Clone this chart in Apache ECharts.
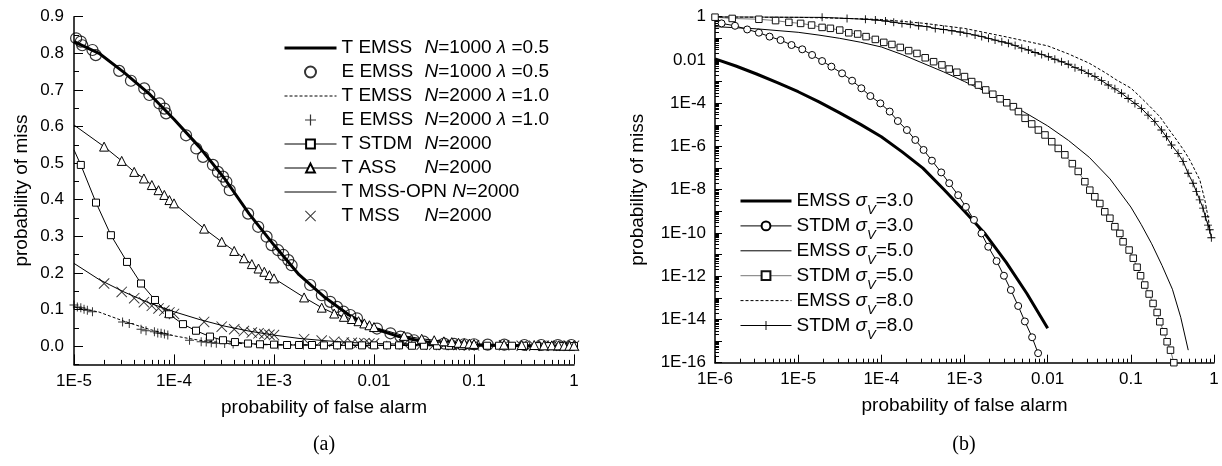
<!DOCTYPE html>
<html>
<head>
<meta charset="utf-8">
<script src="https://cdn.jsdelivr.net/npm/echarts@6/dist/echarts.min.js"></script>
<style>
  html, body { margin: 0; padding: 0; background: #fff; }
  #chart { width: 1222px; height: 466px; }
</style>
</head>
<body>
<div id="chart"></div>
<script>
// ---- data, panel (a): x = probability of false alarm, y = probability of miss
const xTicksA = [1e-5, 1e-4, 1e-3, 0.01, 0.1, 1];
const xLabelsA = ['1E-5', '1E-4', '1E-3', '0.01', '0.1', '1'];
const yTicksA = [0, 0.1, 0.2, 0.3, 0.4, 0.5, 0.6, 0.7, 0.8, 0.9];

const tEmss1000 = [[1e-5,0.832],[1.78e-5,0.800],[3.16e-5,0.748],[5.62e-5,0.690],[1e-4,0.620],[1.78e-4,0.545],[3.16e-4,0.460],[5.62e-4,0.362],[1e-3,0.276],[1.78e-3,0.195],[3.16e-3,0.135],[5.62e-3,0.085],[0.01,0.048],[0.0178,0.026],[0.0316,0.012],[0.0562,0.005],[0.1,0.003],[0.316,0.001],[1,0]];
const eEmss1000 = [[1.05e-5,0.841],[1.17e-5,0.832],[1.21e-5,0.822],[1.53e-5,0.809],[1.65e-5,0.795],[2.83e-5,0.752],[3.71e-5,0.725],[5.04e-5,0.704],[5.67e-5,0.686],[7.14e-5,0.663],[8.02e-5,0.649],[8.33e-5,0.636],[1.32e-4,0.576],[1.67e-4,0.540],[1.95e-4,0.517],[2.45e-4,0.495],[2.75e-4,0.476],[3.09e-4,0.463],[3.34e-4,0.449],[3.61e-4,0.426],[5.51e-4,0.362],[6.95e-4,0.326],[8.43e-4,0.299],[9.46e-4,0.276],[1.10e-3,0.262],[1.24e-3,0.249],[1.39e-3,0.235],[1.50e-3,0.221],[2.30e-3,0.167],[3.01e-3,0.139],[3.65e-3,0.121],[4.26e-3,0.107],[4.97e-3,0.094],[5.79e-3,0.085],[6.76e-3,0.076],[1.07e-2,0.048],[1.46e-2,0.035],[1.84e-2,0.026],[2.15e-2,0.021],[2.51e-2,0.016],[3.16e-2,0.012],[5.02e-2,0.007],[6.32e-2,0.006],[7.97e-2,0.005],[0.1,0.005],[0.137,0.004],[0.201,0.004],[0.319,0.003],[0.47,0.003],[0.69,0.003],[0.94,0.003]];
const tEmss2000 = [[1e-5,0.107],[1.78e-5,0.093],[3.16e-5,0.068],[5.62e-5,0.046],[1e-4,0.028],[1.78e-4,0.016],[3.16e-4,0.009],[5.62e-4,0.006],[1e-3,0.004],[3.16e-3,0.003],[0.01,0.002],[0.1,0.001],[1,0]];
const eEmss2000 = [[1e-5,0.112],[1.08e-5,0.107],[1.17e-5,0.105],[1.26e-5,0.101],[1.36e-5,0.098],[1.53e-5,0.094],[3.06e-5,0.066],[3.57e-5,0.062],[4.68e-5,0.046],[5.25e-5,0.042],[6.37e-5,0.039],[6.88e-5,0.036],[7.43e-5,0.035],[8.02e-5,0.033],[8.67e-5,0.030],[1.43e-4,0.016],[1.87e-4,0.012],[2.1e-4,0.011],[2.36e-4,0.009],[2.65e-4,0.008],[3.21e-4,0.007],[3.9e-4,0.006],[7.8e-4,0.004],[1.1e-3,0.003],[1.97e-3,0.003],[4.3e-3,0.002],[1.34e-2,0.002],[4.21e-2,0.001],[0.2,0.001],[0.62,0.001]];
const tStdm = [[1e-5,0.536],[1.17e-5,0.495],[1.66e-5,0.392],[2.34e-5,0.303],[3.39e-5,0.230],[4.68e-5,0.171],[6.46e-5,0.126],[8.91e-5,0.087],[1.23e-4,0.060],[1.66e-4,0.042],[2.29e-4,0.026],[3.09e-4,0.016],[4.07e-4,0.011],[5.5e-4,0.007],[7.24e-4,0.005],[1e-3,0.004],[1.35e-3,0.003],[1.78e-3,0.003],[2.4e-3,0.003],[3.16e-3,0.002],[4.27e-3,0.002],[5.62e-3,0.002],[7.59e-3,0.002],[0.01,0.002],[0.0135,0.002],[0.0178,0.002],[0.024,0.001],[0.0316,0.001],[0.0427,0.001],[0.0562,0.001],[0.0759,0.001],[0.1,0.001],[0.135,0.001],[0.178,0.001],[0.24,0.001],[0.316,0.001],[0.427,0],[0.562,0],[0.759,0],[1,0]];
const tAss = [[1e-5,0.604],[2e-5,0.545],[3e-5,0.506],[4e-5,0.476],[5e-5,0.458],[6e-5,0.44],[7e-5,0.426],[8e-5,0.413],[9e-5,0.399],[1e-4,0.39],[2e-4,0.321],[3e-4,0.285],[4e-4,0.26],[5e-4,0.24],[6e-4,0.224],[7e-4,0.212],[8e-4,0.203],[9e-4,0.194],[1e-3,0.185],[2e-3,0.133],[3e-3,0.105],[4e-3,0.089],[5e-3,0.08],[6e-3,0.074],[7e-3,0.068],[8e-3,0.062],[9e-3,0.057],[0.01,0.052],[0.02,0.028],[0.03,0.02],[0.04,0.016],[0.05,0.013],[0.06,0.011],[0.07,0.009],[0.08,0.008],[0.09,0.007],[0.1,0.006],[0.2,0.004],[0.3,0.003],[0.4,0.003],[0.5,0.002],[0.6,0.002],[0.7,0.002],[0.8,0.001],[0.9,0.001],[1,0.001]];
const tMssOpn = [[1e-5,0.226],[1.78e-5,0.182],[3.16e-5,0.148],[5.62e-5,0.118],[1e-4,0.094],[1.78e-4,0.073],[3.16e-4,0.055],[5.62e-4,0.041],[1e-3,0.030],[1.78e-3,0.021],[3.16e-3,0.015],[5.62e-3,0.010],[0.01,0.007],[0.0316,0.004],[0.1,0.002],[0.316,0.001],[1,0]];
const tMss = [[2e-5,0.171],[3e-5,0.148],[4e-5,0.131],[5e-5,0.12],[6e-5,0.11],[7e-5,0.103],[8e-5,0.097],[9e-5,0.092],[1e-4,0.088],[2e-4,0.066],[3e-4,0.053],[4e-4,0.046],[5e-4,0.041],[6e-4,0.037],[7e-4,0.035],[8e-4,0.033],[9e-4,0.031],[1e-3,0.030],[2e-3,0.019],[3e-3,0.015],[4e-3,0.012],[5e-3,0.010],[6e-3,0.009],[7e-3,0.008],[8e-3,0.008],[9e-3,0.007],[0.01,0.007],[0.02,0.005],[0.03,0.004],[0.04,0.004],[0.05,0.003],[0.06,0.003],[0.07,0.003],[0.08,0.003],[0.09,0.002],[0.1,0.002],[0.2,0.002],[0.3,0.001],[0.4,0.001],[0.5,0.001],[0.6,0.001],[0.7,0.001],[0.8,0.001],[0.9,0.001],[1,0.001]];

// ---- data, panel (b)
const xTicksB = [1e-6, 1e-5, 1e-4, 1e-3, 0.01, 0.1, 1];
const xLabelsB = ['1E-6', '1E-5', '1E-4', '1E-3', '0.01', '0.1', '1'];
const yTicksB = [1e-16, 1e-14, 1e-12, 1e-10, 1e-8, 1e-6, 1e-4, 0.01, 1];
const yLabelsB = ['1E-16', '1E-14', '1E-12', '1E-10', '1E-8', '1E-6', '1E-4', '0.01', '1'];

const emss3 = [[1e-6,1.12e-2],[1.78e-6,5.25e-3],[3.16e-6,2.24e-3],[5.62e-6,8.9e-4],[1e-5,3.39e-4],[1.78e-5,1.15e-4],[3.16e-5,3.55e-5],[5.62e-5,1.05e-5],[1e-4,2.82e-6],[1.78e-4,5.6e-7],[3.16e-4,1e-7],[5.62e-4,1.05e-8],[1e-3,1e-9],[1.78e-3,8.9e-11],[3.16e-3,4.47e-12],[5.62e-3,1.58e-13],[1e-2,3.9e-15]];
const stdm3 = [[1.2e-6,0.49],[1.74e-6,0.38],[2.44e-6,0.257],[3.37e-6,0.182],[4.53e-6,0.12],[6.14e-6,0.083],[8.32e-6,0.049],[1.12e-5,0.031],[1.47e-5,0.017],[1.94e-5,8.9e-3],[2.51e-5,4.9e-3],[3.37e-5,2.4e-3],[4.45e-5,1.1e-3],[5.75e-5,4.9e-4],[7.38e-5,2.14e-4],[9.73e-5,9.8e-5],[1.26e-4,4.1e-5],[1.58e-4,1.5e-5],[2.03e-4,5.75e-6],[2.56e-4,2e-6],[3.22e-4,6.9e-7],[4.06e-4,2.2e-7],[5.25e-4,6.3e-8],[6.55e-4,2e-8],[8.39e-4,5.6e-9],[1.04e-3,1.6e-9],[1.3e-3,4e-10],[1.6e-3,9.5e-11],[1.93e-3,2.3e-11],[2.43e-3,5e-12],[2.98e-3,1.05e-12],[3.61e-3,2.3e-13],[4.42e-3,4.2e-14],[5.32e-3,8.1e-15],[6.5e-3,1.5e-15],[7.67e-3,2.75e-16]];
const emss5 = [[1e-6,0.347],[3.16e-6,0.275],[1e-5,0.19],[1.78e-5,0.141],[3.16e-5,0.1],[5.62e-5,0.066],[1e-4,0.0398],[1.78e-4,0.0178],[3.16e-4,7.08e-3],[5.62e-4,2.8e-3],[1e-3,1e-3],[1.78e-3,3.55e-4],[3.16e-3,1.12e-4],[5.62e-3,3.3e-5],[0.01,8.9e-6],[0.0178,1.9e-6],[0.0316,3.16e-7],[0.0562,3.16e-8],[0.1,1.58e-9],[0.133,2.5e-10],[0.178,3.16e-11],[0.237,3.16e-12],[0.316,2.5e-13],[0.398,1.26e-14],[0.49,3.8e-16]];
const stdm5 = [[1e-6,0.95],[1.61e-6,0.83],[3.37e-6,0.76],[5.35e-6,0.66],[7.73e-6,0.55],[1.07e-5,0.49],[1.45e-5,0.41],[1.94e-5,0.32],[2.44e-5,0.29],[3.16e-5,0.24],[4.06e-5,0.18],[5.2e-5,0.158],[6.55e-5,0.12],[8.47e-5,0.089],[1.07e-4,0.065],[1.34e-4,0.052],[1.69e-4,0.038],[2.13e-4,0.027],[2.68e-4,0.020],[3.37e-4,0.0126],[4.25e-4,8.3e-3],[5.35e-4,5.9e-3],[6.55e-4,3.8e-3],[8.09e-4,2.7e-3],[1e-3,1.7e-3],[1.22e-3,1e-3],[1.47e-3,6.9e-4],[1.8e-3,4.1e-4],[2.19e-3,2.6e-4],[2.68e-3,1.6e-4],[3.22e-3,1.05e-4],[3.87e-3,6.9e-5],[4.45e-3,4.1e-5],[5.35e-3,2e-5],[6.43e-3,1.1e-5],[7.73e-3,5.75e-6],[9.29e-3,3.4e-6],[1.12e-2,1.66e-6],[1.34e-2,8.1e-7],[1.61e-2,4.1e-7],[1.98e-2,1.6e-7],[2.33e-2,7e-8],[2.8e-2,2.34e-8],[3.21e-2,9.5e-9],[3.69e-2,4.7e-9],[4.24e-2,2.3e-9],[4.86e-2,9.5e-10],[5.6e-2,4.8e-10],[6.43e-2,1.95e-10],[7.38e-2,9.5e-11],[8.07e-2,3.9e-11],[9.53e-2,1.62e-11],[0.107,6.8e-12],[0.119,2.6e-12],[0.131,1.05e-12],[0.147,3.9e-13],[0.166,1.5e-13],[0.185,5.5e-14],[0.207,2.1e-14],[0.223,7.8e-15],[0.249,2.7e-15],[0.273,9.3e-16],[0.3,3.8e-16],[0.329,1e-16]];
const emss8 = [[1e-6,0.977],[1e-5,0.933],[3.16e-5,0.851],[1e-4,0.741],[3.16e-4,0.501],[1e-3,0.288],[3.16e-3,0.117],[0.01,0.0447],[0.0178,0.019],[0.0316,7.08e-3],[0.05,2.5e-3],[0.0676,1.17e-3],[0.1,5e-4],[0.129,2e-4],[0.17,7e-5],[0.224,2.34e-5],[0.28,7e-6],[0.355,2e-6],[0.43,7e-7],[0.513,2.34e-7],[0.59,8e-8],[0.676,2.8e-8],[0.776,3.3e-9],[0.851,5e-10],[0.902,1.26e-10]];
const stdm8 = [[1e-6,0.99],[1.94e-5,0.933],[3.87e-5,0.832],[6.43e-5,0.759],[8.47e-5,0.708],[1.12e-4,0.631],[1.41e-4,0.55],[1.77e-4,0.49],[2.23e-4,0.447],[2.81e-4,0.38],[3.53e-4,0.347],[4.45e-4,0.288],[5.6e-4,0.257],[7.05e-4,0.224],[8.87e-4,0.195],[1.07e-3,0.17],[1.34e-3,0.141],[1.61e-3,0.12],[1.94e-3,0.1],[2.33e-3,0.083],[2.81e-3,0.069],[3.37e-3,0.059],[4.06e-3,0.046],[4.88e-3,0.035],[5.86e-3,0.029],[7.05e-3,0.022],[8.47e-3,0.018],[1.02e-2,0.014],[1.22e-2,0.0107],[1.47e-2,8.3e-3],[1.77e-2,6.3e-3],[2.13e-2,4.4e-3],[2.56e-2,3.4e-3],[3.08e-2,2.4e-3],[3.7e-2,1.7e-3],[4.45e-2,1.1e-3],[5.35e-2,6.9e-4],[6.43e-2,4.6e-4],[7.73e-2,2.9e-4],[9.29e-2,1.66e-4],[0.112,9.8e-5],[0.134,5.75e-5],[0.161,2.8e-5],[0.194,1.4e-5],[0.233,5.75e-6],[0.268,2.8e-6],[0.308,1.17e-6],[0.37,4.8e-7],[0.425,2e-7],[0.488,5.75e-8],[0.56,2e-8],[0.614,8.1e-9],[0.673,3.4e-9],[0.738,1.4e-9],[0.787,5.6e-10],[0.847,2.3e-10],[0.887,1.4e-10],[0.929,6e-11]];

// ---- styling helpers
const FONT = 'Liberation Sans, Arial, sans-serif';
const plusPath = 'path://M4.45,0H5.55V4.45H10V5.55H5.55V10H4.45V5.55H0V4.45H4.45Z';
const crossPath = 'path://M0.6,0L10,9.4L9.4,10L0,0.6Z M9.4,0L10,0.6L0.6,10L0,9.4Z';
const NOFILL = 'rgba(0,0,0,0)';

function minorLog(lo, hi) {
    const out = [];
    for (let e = lo; e < hi; e++) {
        for (let k = 2; k <= 9; k++) out.push(k * Math.pow(10, e));
    }
    return out;
}
function decades(lo, hi) {
    const out = [];
    for (let e = lo; e <= hi; e++) out.push(Math.pow(10, e));
    return out;
}
function pickLabel(vals, labels, v) {
    const lv = Math.log10(v);
    for (let i = 0; i < vals.length; i++) {
        if (Math.abs(Math.log10(vals[i]) - lv) < 0.01) return labels[i];
    }
    return '';
}
// first point of a curve drawn without a marker
function noFirst(arr) {
    return arr.map((p, i) => i === 0 ? { value: p, symbol: 'none' } : p);
}

const lineBlack = { color: '#000', width: 1.5 };

const legendA = {
    'T EMSS N=1000 λ=0.5': '{a|T EMSS}{i|N}{t|=1000 }{i|λ}{t| =0.5}',
    'E EMSS N=1000 λ=0.5': '{a|E EMSS}{i|N}{t|=1000 }{i|λ}{t| =0.5}',
    'T EMSS N=2000 λ=1.0': '{a|T EMSS}{i|N}{t|=2000 }{i|λ}{t| =1.0}',
    'E EMSS N=2000 λ=1.0': '{a|E EMSS}{i|N}{t|=2000 }{i|λ}{t| =1.0}',
    'T STDM N=2000': '{a|T STDM}{i|N}{t|=2000}',
    'T ASS N=2000': '{a|T ASS}{i|N}{t|=2000}',
    'T MSS-OPN N=2000': '{t|T MSS-OPN }{i|N}{t|=2000}',
    'T MSS N=2000': '{a|T MSS}{i|N}{t|=2000}'
};
const legendB = {
    'EMSS σV=3.0': '{t|EMSS }{g|σ}{s|V}{t|=3.0}',
    'STDM σV=3.0': '{t|STDM }{g|σ}{s|V}{t|=3.0}',
    'EMSS σV=5.0': '{t|EMSS }{g|σ}{s|V}{t|=5.0}',
    'STDM σV=5.0': '{t|STDM }{g|σ}{s|V}{t|=5.0}',
    'EMSS σV=8.0': '{t|EMSS }{g|σ}{s|V}{t|=8.0}',
    'STDM σV=8.0': '{t|STDM }{g|σ}{s|V}{t|=8.0}'
};

// plain curve (no markers); transparent item colour keeps the legend icon a bare line
function curve(name, data, xi, width, dashed) {
    return {
        name: name, type: 'line', xAxisIndex: xi, yAxisIndex: xi, data: data, symbol: 'none',
        lineStyle: { color: '#000', width: width, type: dashed ? [3, 2] : 'solid' },
        itemStyle: { color: NOFILL, borderColor: NOFILL }
    };
}

const chart = echarts.init(document.getElementById('chart'));

chart.setOption({
    animation: false,
    backgroundColor: '#fff',
    textStyle: { fontFamily: FONT, color: '#000' },
    grid: [
        { left: 74, top: 16.7, width: 500, height: 347.7 },
        { left: 715, top: 16.7, width: 499, height: 346 }
    ],
    legend: [{
        left: 283, top: 38.5, orient: 'vertical', padding: 0,
        itemWidth: 52, itemHeight: 11, itemGap: 5,
        lineStyle: { width: 'inherit' },
        data: Object.keys(legendA),
        formatter: name => legendA[name],
        textStyle: {
            fontFamily: FONT, color: '#000', fontSize: 19,
            rich: {
                a: { width: 83, fontSize: 19, lineHeight: 20, fontFamily: FONT, color: '#000' },
                t: { fontSize: 19, lineHeight: 20, fontFamily: FONT, color: '#000' },
                i: { fontSize: 19, lineHeight: 20, fontStyle: 'italic', fontFamily: FONT, color: '#000' }
            }
        }
    }, {
        left: 739, top: 191.5, orient: 'vertical', padding: 0,
        itemWidth: 51, itemHeight: 11, itemGap: -0.6,
        lineStyle: { width: 'inherit' },
        data: Object.keys(legendB),
        formatter: name => legendB[name],
        textStyle: {
            fontFamily: FONT, color: '#000', fontSize: 19,
            rich: {
                t: { fontSize: 19, lineHeight: 32, fontFamily: FONT, color: '#000' },
                g: { fontSize: 19, lineHeight: 32, fontStyle: 'italic', fontFamily: FONT, color: '#000' },
                s: { fontSize: 13, lineHeight: 14, fontStyle: 'italic', verticalAlign: 'bottom', fontFamily: FONT, color: '#000' }
            }
        }
    }],
    xAxis: [{
        gridIndex: 0, type: 'log', logBase: 10, min: 1e-5, max: 1, position: 'bottom',
        axisLine: { show: true, onZero: false, lineStyle: lineBlack },
        axisTick: { show: true, inside: true, length: 10, customValues: xTicksA, lineStyle: { color: '#000', width: 1 } },
        axisLabel: { customValues: xTicksA, formatter: v => pickLabel(xTicksA, xLabelsA, v), fontSize: 17, margin: 8, color: '#000', fontFamily: FONT },
        splitLine: { show: false },
        name: 'probability of false alarm', nameLocation: 'middle', nameGap: 34,
        nameTextStyle: { fontSize: 19, color: '#000', fontFamily: FONT }
    }, {
        gridIndex: 0, type: 'log', logBase: 10, min: 1e-5, max: 1, position: 'bottom',
        axisLine: { show: false, onZero: false },
        axisTick: { show: true, inside: true, length: 4.5, customValues: minorLog(-5, 0), lineStyle: { color: '#000', width: 1 } },
        axisLabel: { show: false }, splitLine: { show: false }
    }, {
        gridIndex: 1, type: 'log', logBase: 10, min: 1e-6, max: 1, position: 'bottom',
        axisLine: { show: true, onZero: false, lineStyle: lineBlack },
        axisTick: { show: true, inside: true, length: 8, customValues: xTicksB, lineStyle: { color: '#000', width: 1 } },
        axisLabel: { customValues: xTicksB, formatter: v => pickLabel(xTicksB, xLabelsB, v), fontSize: 17, margin: 8, color: '#000', fontFamily: FONT },
        splitLine: { show: false },
        name: 'probability of false alarm', nameLocation: 'middle', nameGap: 34,
        nameTextStyle: { fontSize: 19, color: '#000', fontFamily: FONT }
    }, {
        gridIndex: 1, type: 'log', logBase: 10, min: 1e-6, max: 1, position: 'bottom',
        axisLine: { show: false, onZero: false },
        axisTick: { show: true, inside: true, length: 4, customValues: minorLog(-6, 0), lineStyle: { color: '#000', width: 1 } },
        axisLabel: { show: false }, splitLine: { show: false }
    }],
    yAxis: [{
        gridIndex: 0, type: 'value', min: -0.05, max: 0.9, position: 'left',
        axisLine: { show: true, onZero: false, lineStyle: lineBlack },
        axisTick: { show: true, inside: true, length: 9, customValues: yTicksA, lineStyle: { color: '#000', width: 1 } },
        axisLabel: { customValues: yTicksA, formatter: v => v.toFixed(1), fontSize: 17, margin: 10, color: '#000', fontFamily: FONT },
        splitLine: { show: false },
        name: 'probability of miss', nameLocation: 'middle', nameGap: 43,
        nameTextStyle: { fontSize: 19, color: '#000', fontFamily: FONT }
    }, {
        gridIndex: 0, type: 'value', min: -0.05, max: 0.9, position: 'left',
        axisLine: { show: false, onZero: false },
        axisTick: { show: true, inside: true, length: 5, customValues: yTicksA.map(v => v - 0.05), lineStyle: { color: '#000', width: 1 } },
        axisLabel: { show: false }, splitLine: { show: false }
    }, {
        gridIndex: 1, type: 'log', logBase: 10, min: 1e-16, max: 1, position: 'left',
        axisLine: { show: true, onZero: false, lineStyle: lineBlack },
        axisTick: { show: true, inside: true, length: 7, customValues: decades(-16, 0), lineStyle: { color: '#000', width: 1 } },
        axisLabel: { customValues: yTicksB, formatter: v => pickLabel(yTicksB, yLabelsB, v), fontSize: 17, margin: 9, color: '#000', fontFamily: FONT },
        splitLine: { show: false },
        name: 'probability of miss', nameLocation: 'middle', nameGap: 68,
        nameTextStyle: { fontSize: 19, color: '#000', fontFamily: FONT }
    }, {
        gridIndex: 1, type: 'log', logBase: 10, min: 1e-16, max: 1, position: 'left',
        axisLine: { show: false, onZero: false },
        axisTick: { show: true, inside: true, length: 4, customValues: minorLog(-16, 0), lineStyle: { color: '#000', width: 1 } },
        axisLabel: { show: false }, splitLine: { show: false }
    }],
    graphic: [
        { type: 'text', x: 324, y: 445, style: { text: '(a)', fontSize: 20, fontFamily: 'Liberation Serif, Times New Roman, serif', fill: '#000', align: 'center', verticalAlign: 'middle' } },
        { type: 'text', x: 964, y: 445, style: { text: '(b)', fontSize: 20, fontFamily: 'Liberation Serif, Times New Roman, serif', fill: '#000', align: 'center', verticalAlign: 'middle' } }
    ],
    series: [
        // panel (a)
        curve('T EMSS N=1000 λ=0.5', tEmss1000, 0, 3, false),
        { name: 'E EMSS N=1000 λ=0.5', type: 'scatter', xAxisIndex: 0, yAxisIndex: 0, data: eEmss1000,
          symbol: 'circle', symbolSize: 11, itemStyle: { color: NOFILL, borderColor: '#000', borderWidth: 1.2 } },
        curve('T EMSS N=2000 λ=1.0', tEmss2000, 0, 1, true),
        { name: 'E EMSS N=2000 λ=1.0', type: 'scatter', xAxisIndex: 0, yAxisIndex: 0, data: eEmss2000,
          symbol: plusPath, symbolSize: 9, itemStyle: { color: '#000' } },
        { name: 'T STDM N=2000', type: 'line', xAxisIndex: 0, yAxisIndex: 0, data: noFirst(tStdm),
          symbol: 'rect', symbolSize: 7, showAllSymbol: true, lineStyle: { color: '#000', width: 1 },
          itemStyle: { color: '#fff', borderColor: '#000', borderWidth: 1 } },
        { name: 'T ASS N=2000', type: 'line', xAxisIndex: 0, yAxisIndex: 0, data: noFirst(tAss),
          symbol: 'triangle', symbolSize: 9, showAllSymbol: true, lineStyle: { color: '#000', width: 1 },
          itemStyle: { color: '#fff', borderColor: '#000', borderWidth: 1 } },
        curve('T MSS-OPN N=2000', tMssOpn, 0, 1, false),
        { name: 'T MSS N=2000', type: 'scatter', xAxisIndex: 0, yAxisIndex: 0, data: tMss,
          symbol: crossPath, symbolSize: 11, itemStyle: { color: '#000' } },

        // panel (b)
        curve('EMSS σV=3.0', emss3, 2, 3, false),
        { name: 'STDM σV=3.0', type: 'line', xAxisIndex: 2, yAxisIndex: 2, data: stdm3,
          symbol: 'circle', symbolSize: 7, showAllSymbol: true, lineStyle: { color: '#000', width: 1 },
          itemStyle: { color: '#fff', borderColor: '#000', borderWidth: 1 } },
        curve('EMSS σV=5.0', emss5, 2, 1, false),
        { name: 'STDM σV=5.0', type: 'line', xAxisIndex: 2, yAxisIndex: 2, data: stdm5,
          symbol: 'rect', symbolSize: 6.5, showAllSymbol: true, lineStyle: { color: '#777', width: 1 },
          itemStyle: { color: '#fff', borderColor: '#111', borderWidth: 1 } },
        curve('EMSS σV=8.0', emss8, 2, 1, true),
        { name: 'STDM σV=8.0', type: 'line', xAxisIndex: 2, yAxisIndex: 2, data: noFirst(stdm8),
          symbol: plusPath, symbolSize: 8, showAllSymbol: true, lineStyle: { color: '#000', width: 1 },
          itemStyle: { color: '#000' } }
    ]
});
</script>
</body>
</html>
